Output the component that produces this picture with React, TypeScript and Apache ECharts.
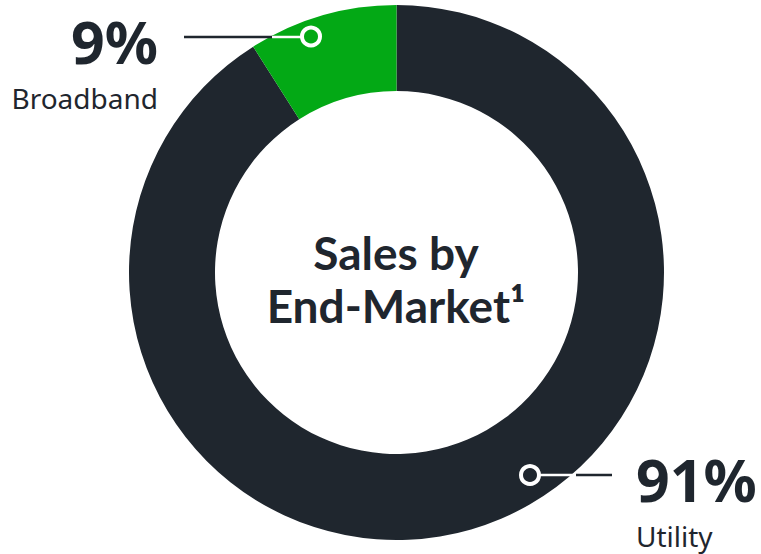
import React, { useEffect, useRef } from "react";
import * as echarts from "echarts";

const categories = ["Utility", "Broadband"];
const shares = [91, 9];
const sliceColors = ["#1f262e", "#03a915"];
const centerTitle = ["Sales by", "End-Market\u00b9"];

const DARK = "#1f262e";
const FONT = "'Noto Sans', 'Open Sans', sans-serif";
const TITLE_FONT = "Lato, 'Noto Sans', sans-serif";

export default function App() {
  const ref = useRef<HTMLDivElement>(null);
  useEffect(() => {
    document.body.style.margin = "0";
    const chart = echarts.init(ref.current!, null, { renderer: "svg" });
    const data = categories.map((name, i) => ({
      name,
      value: shares[i],
      itemStyle: { color: sliceColors[i] },
    }));
    chart.setOption({
      animation: false,
      backgroundColor: "#ffffff",
      series: [
        {
          type: "pie",
          center: [396.5, 272.5],
          radius: [181.5, 267.5],
          startAngle: 90,
          clockwise: true,
          silent: true,
          z: 1,
          label: { show: false },
          labelLine: { show: false },
          itemStyle: { borderWidth: 0 },
          data,
        },
      ],
      graphic: {
        elements: [
          {
            type: "group",
            z: 100,
            children: [
              // center title
              {
                type: "text",
                x: 396,
                y: 279,
                z: 100,
                style: {
                  text: centerTitle.join("\n"),
                  font: `bold 46px ${TITLE_FONT}`,
                  lineHeight: 53,
                  fill: DARK,
                  textAlign: "center",
                  textVerticalAlign: "middle",
                },
              },
              // Broadband annotation
              {
                type: "line",
                z: 100,
                shape: { x1: 184, y1: 37, x2: 273, y2: 37 },
                style: { stroke: DARK, lineWidth: 2.5 },
              },
              {
                type: "line",
                z: 100,
                shape: { x1: 272, y1: 37, x2: 302, y2: 37 },
                style: { stroke: "#ffffff", lineWidth: 2.5 },
              },
              {
                type: "circle",
                z: 101,
                shape: { cx: 311, cy: 36.5, r: 9 },
                style: { fill: sliceColors[1], stroke: "#ffffff", lineWidth: 4 },
              },
              {
                type: "text",
                x: 158,
                y: 41,
                z: 100,
                style: {
                  text: `${shares[1]}%`,
                  font: `bold 59px ${FONT}`,
                  lineHeight: 60,
                  fill: DARK,
                  textAlign: "right",
                  textVerticalAlign: "middle",
                },
              },
              {
                type: "text",
                x: 158,
                y: 98,
                z: 100,
                style: {
                  text: categories[1],
                  font: `28px ${FONT}`,
                  lineHeight: 28,
                  fill: DARK,
                  textAlign: "right",
                  textVerticalAlign: "middle",
                },
              },
              // Utility annotation
              {
                type: "line",
                z: 100,
                shape: { x1: 539, y1: 475, x2: 576, y2: 475 },
                style: { stroke: "#ffffff", lineWidth: 2.5 },
              },
              {
                type: "line",
                z: 100,
                shape: { x1: 576, y1: 475, x2: 612, y2: 475 },
                style: { stroke: DARK, lineWidth: 2.5 },
              },
              {
                type: "circle",
                z: 101,
                shape: { cx: 530, cy: 475, r: 9 },
                style: { fill: sliceColors[0], stroke: "#ffffff", lineWidth: 4 },
              },
              {
                type: "text",
                x: 636,
                y: 479,
                z: 100,
                style: {
                  text: `${shares[0]}%`,
                  font: `bold 59px ${FONT}`,
                  lineHeight: 60,
                  fill: DARK,
                  textAlign: "left",
                  textVerticalAlign: "middle",
                },
              },
              {
                type: "text",
                x: 636,
                y: 536,
                z: 100,
                style: {
                  text: categories[0],
                  font: `28px ${FONT}`,
                  lineHeight: 28,
                  fill: DARK,
                  textAlign: "left",
                  textVerticalAlign: "middle",
                },
              },
            ],
          },
        ],
      },
    });
    return () => chart.dispose();
  }, []);
  return <div ref={ref} style={{ width: 761, height: 554 }} />;
}
